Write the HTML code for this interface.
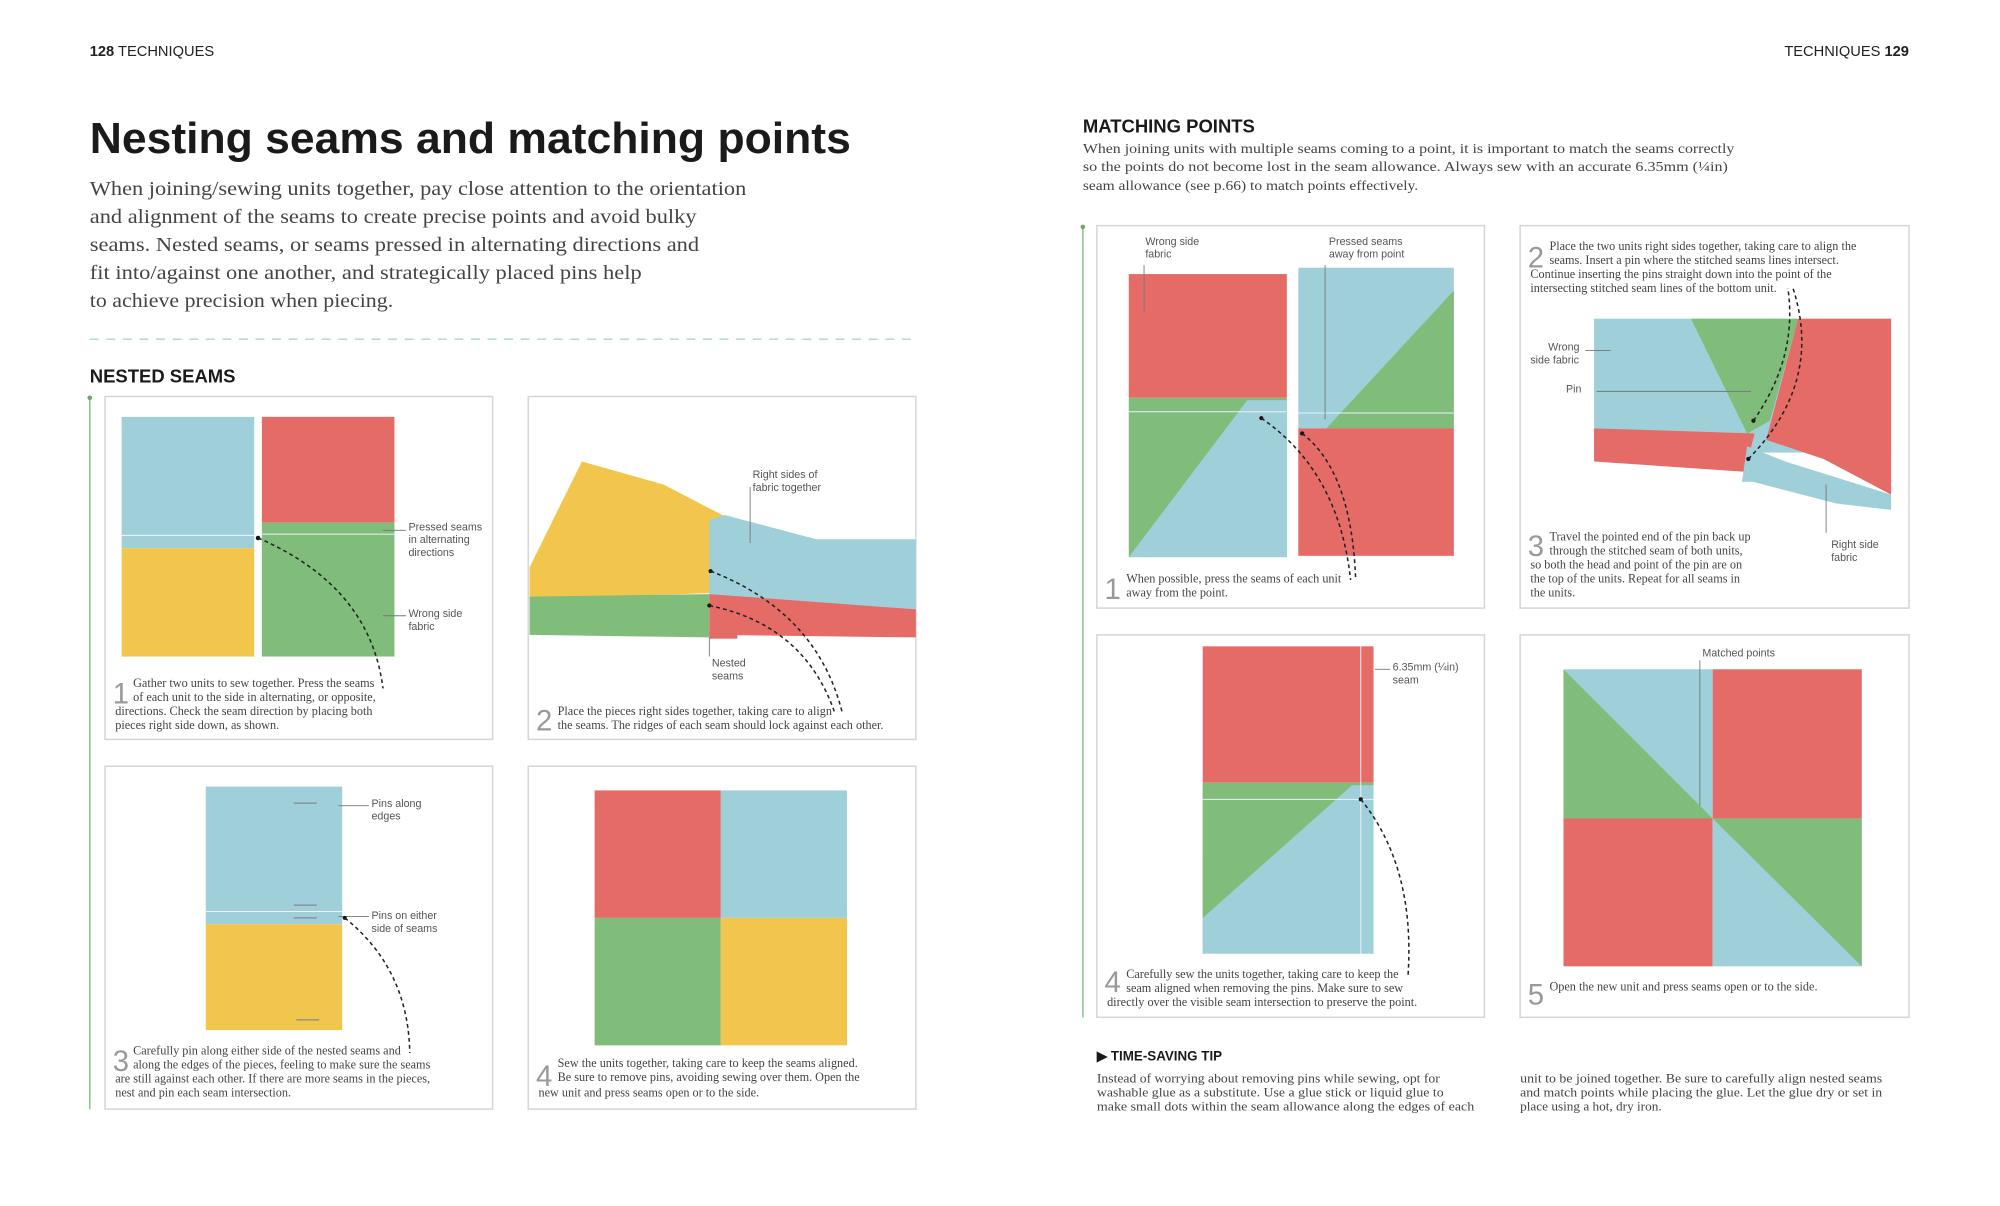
<!DOCTYPE html>
<html><head><meta charset="utf-8"><style>
html,body{margin:0;padding:0;background:#fff;}
svg{display:block;}
.s{font-family:"Liberation Sans",sans-serif;}
.f{font-family:"Liberation Serif",serif;}
.cap{font-family:"Liberation Serif",serif;font-size:9.6px;fill:#444;}
.lab{font-family:"Liberation Sans",sans-serif;font-size:8.4px;fill:#555;}
.num{font-family:"Liberation Sans",sans-serif;font-size:23px;fill:#999;}
.pn{fill:#fff;stroke:#d6d6d6;stroke-width:1.2;}
.ld{stroke:#777;stroke-width:0.7;fill:none;}
.dl{stroke:#222;stroke-width:1.2;fill:none;stroke-dasharray:3,2.5;}
</style></head><body>
<svg width="2000" height="1206" viewBox="0 0 1568 946" xmlns="http://www.w3.org/2000/svg">
<rect width="1568" height="946" fill="#fff"/>
<text x="70" y="44" class="s" font-size="11.5" fill="#222"><tspan font-weight="bold">128</tspan> TECHNIQUES</text>
<text x="1497" y="44" class="s" font-size="11.5" fill="#222" text-anchor="end">TECHNIQUES <tspan font-weight="bold">129</tspan></text>
<text x="70" y="120" class="s" font-size="34" font-weight="bold" fill="#1a1a1a" textLength="597" lengthAdjust="spacingAndGlyphs">Nesting seams and matching points</text>
<g class="f" font-size="15.6" fill="#444">
<text x="70" y="153" textLength="515" lengthAdjust="spacingAndGlyphs">When joining/sewing units together, pay close attention to the orientation</text>
<text x="70" y="175" textLength="476" lengthAdjust="spacingAndGlyphs">and alignment of the seams to create precise points and avoid bulky</text>
<text x="70" y="197" textLength="478" lengthAdjust="spacingAndGlyphs">seams. Nested seams, or seams pressed in alternating directions and</text>
<text x="70" y="219" textLength="433" lengthAdjust="spacingAndGlyphs">fit into/against one another, and strategically placed pins help</text>
<text x="70" y="241" textLength="238" lengthAdjust="spacingAndGlyphs">to achieve precision when piecing.</text>
</g>
<line x1="70" y1="266" x2="718" y2="266" stroke="#a9ccd0" stroke-width="1" stroke-dasharray="7,6"/>
<text x="70" y="300" class="s" font-size="14.5" font-weight="bold" fill="#1a1a1a">NESTED SEAMS</text>
<line x1="70" y1="312" x2="70" y2="870" stroke="#8cc28c" stroke-width="1.2"/>
<circle cx="70" cy="312" r="1.8" fill="#6aa86a"/>

<rect class="pn" x="82" y="311" width="304" height="269"/>
<rect x="95" y="327" width="104" height="103" fill="#9fd0d9"/>
<line x1="95" y1="420" x2="199" y2="420" stroke="#eef" stroke-width="0.8"/>
<rect x="95" y="430" width="104" height="85" fill="#f2c64c"/>
<rect x="205" y="327" width="104" height="83" fill="#e46b66"/>
<rect x="205" y="410" width="104" height="105" fill="#80bd7b"/>
<line x1="205" y1="419" x2="309" y2="419" stroke="#eef" stroke-width="0.8"/>
<circle cx="202" cy="422" r="1.8" fill="#111"/>
<path class="dl" d="M202,422 Q290,460 300,540"/>
<line class="ld" x1="300" y1="416" x2="318" y2="416"/>
<line class="ld" x1="300" y1="483" x2="318" y2="483"/>
<text class="lab" x="320" y="416">Pressed seams</text><text class="lab" x="320" y="426">in alternating</text><text class="lab" x="320" y="436">directions</text>
<text class="lab" x="320" y="484">Wrong side</text><text class="lab" x="320" y="494">fabric</text>
<text class="num" x="88" y="552">1</text>
<text class="cap" x="104" y="539">Gather two units to sew together. Press the seams</text>
<text class="cap" x="104" y="550">of each unit to the side in alternating, or opposite,</text>
<text class="cap" x="90" y="561">directions. Check the seam direction by placing both</text>
<text class="cap" x="90" y="572">pieces right side down, as shown.</text>

<rect class="pn" x="414" y="311" width="304" height="269"/>
<polygon points="415,445 456,362 520,380 568,405 566,465 415,470" fill="#f2c64c"/>
<polygon points="415,468 556,466 556,500 415,498" fill="#80bd7b"/>
<polygon points="556,408 568,404 640,423 718,423 718,480 556,468" fill="#9fd0d9"/>
<polygon points="556,466 718,478 718,500 556,498" fill="#e46b66"/>
<rect x="556" y="495" width="22" height="6" fill="#e46b66"/>
<line class="ld" x1="588" y1="382" x2="588" y2="426"/>
<line class="ld" x1="556" y1="500" x2="556" y2="515"/>
<circle cx="557" cy="448" r="1.6" fill="#111"/><circle cx="556" cy="475" r="1.6" fill="#111"/>
<path class="dl" d="M557,448 Q640,480 660,558"/>
<path class="dl" d="M556,475 Q630,490 654,558"/>
<text class="lab" x="590" y="375">Right sides of</text><text class="lab" x="590" y="385">fabric together</text>
<text class="lab" x="558" y="523">Nested</text><text class="lab" x="558" y="533">seams</text>
<text class="num" x="420" y="573">2</text>
<text class="cap" x="437" y="561">Place the pieces right sides together, taking care to align</text>
<text class="cap" x="437" y="572">the seams. The ridges of each seam should lock against each other.</text>

<rect class="pn" x="82" y="601" width="304" height="269"/>
<rect x="161" y="617" width="107" height="108" fill="#9fd0d9"/>
<line x1="161" y1="715" x2="268" y2="715" stroke="#eef" stroke-width="0.8"/>
<rect x="161" y="725" width="107" height="83" fill="#f2c64c"/>
<g stroke="#888" stroke-width="1"><line x1="230" y1="630" x2="248" y2="630"/><line x1="230" y1="710" x2="248" y2="710"/><line x1="230" y1="720" x2="248" y2="720"/><line x1="232" y1="800" x2="250" y2="800"/></g>
<line class="ld" x1="265" y1="632" x2="289" y2="632"/>
<line class="ld" x1="265" y1="719" x2="289" y2="719"/>
<text class="lab" x="291" y="633">Pins along</text><text class="lab" x="291" y="643">edges</text>
<text class="lab" x="291" y="721">Pins on either</text><text class="lab" x="291" y="731">side of seams</text>
<circle cx="270" cy="720" r="1.6" fill="#111"/>
<path class="dl" d="M270,720 Q320,760 321,826"/>
<text class="num" x="88" y="840">3</text>
<text class="cap" x="104" y="827">Carefully pin along either side of the nested seams and</text>
<text class="cap" x="104" y="838">along the edges of the pieces, feeling to make sure the seams</text>
<text class="cap" x="90" y="849">are still against each other. If there are more seams in the pieces,</text>
<text class="cap" x="90" y="860">nest and pin each seam intersection.</text>

<rect class="pn" x="414" y="601" width="304" height="269"/>
<rect x="466" y="620" width="99" height="100" fill="#e46b66"/>
<rect x="565" y="620" width="99" height="100" fill="#9fd0d9"/>
<rect x="466" y="720" width="99" height="100" fill="#80bd7b"/>
<rect x="565" y="720" width="99" height="100" fill="#f2c64c"/>
<text class="num" x="420" y="852">4</text>
<text class="cap" x="437" y="837">Sew the units together, taking care to keep the seams aligned.</text>
<text class="cap" x="437" y="848">Be sure to remove pins, avoiding sewing over them. Open the</text>
<text class="cap" x="422" y="860">new unit and press seams open or to the side.</text>

<text x="849" y="104" class="s" font-size="14.5" font-weight="bold" fill="#1a1a1a">MATCHING POINTS</text>
<g class="f" font-size="10.6" fill="#444">
<text x="849" y="120" textLength="511" lengthAdjust="spacingAndGlyphs">When joining units with multiple seams coming to a point, it is important to match the seams correctly</text>
<text x="849" y="134" textLength="506" lengthAdjust="spacingAndGlyphs">so the points do not become lost in the seam allowance. Always sew with an accurate 6.35mm (¼in)</text>
<text x="849" y="149" textLength="263" lengthAdjust="spacingAndGlyphs">seam allowance (see p.66) to match points effectively.</text>
</g>
<line x1="849" y1="178" x2="849" y2="798" stroke="#8cc28c" stroke-width="1.2"/>
<circle cx="849" cy="178" r="1.8" fill="#6aa86a"/>

<rect class="pn" x="860" y="177" width="304" height="300"/>
<rect x="885" y="215" width="124" height="97" fill="#e46b66"/>
<rect x="885" y="312" width="124" height="125" fill="#80bd7b"/>
<polygon points="885,437 978,314 1009,314 1009,437" fill="#9fd0d9"/>
<line x1="885" y1="323" x2="1009" y2="323" stroke="#eef" stroke-width="0.8"/>
<rect x="1018" y="210" width="122" height="126" fill="#9fd0d9"/>
<polygon points="1140,228 1140,336 1040,336" fill="#80bd7b"/>
<rect x="1018" y="336" width="122" height="100" fill="#e46b66"/>
<line x1="1018" y1="324" x2="1140" y2="324" stroke="#eef" stroke-width="0.8"/>
<line class="ld" x1="897" y1="208" x2="897" y2="245"/>
<line class="ld" x1="1039" y1="208" x2="1039" y2="329"/>
<text class="lab" x="898" y="192">Wrong side</text><text class="lab" x="898" y="202">fabric</text>
<text class="lab" x="1042" y="192">Pressed seams</text><text class="lab" x="1042" y="202">away from point</text>
<circle cx="989" cy="328" r="1.6" fill="#111"/><circle cx="1021" cy="340" r="1.6" fill="#111"/>
<path class="dl" d="M989,328 Q1050,370 1059,455"/>
<path class="dl" d="M1021,340 Q1060,370 1063,455"/>
<text class="num" x="866" y="470">1</text>
<text class="cap" x="883" y="457">When possible, press the seams of each unit</text>
<text class="cap" x="883" y="468">away from the point.</text>

<rect class="pn" x="1192" y="177" width="305" height="300"/>
<text class="num" x="1198" y="210">2</text>
<text class="cap" x="1215" y="196">Place the two units right sides together, taking care to align the</text>
<text class="cap" x="1215" y="207">seams. Insert a pin where the stitched seams lines intersect.</text>
<text class="cap" x="1200" y="218">Continue inserting the pins straight down into the point of the</text>
<text class="cap" x="1200" y="229">intersecting stitched seam lines of the bottom unit.</text>
<rect x="1250" y="250" width="233" height="105" fill="#9fd0d9"/>
<polygon points="1326,250 1410,250 1388,330 1370,340" fill="#80bd7b"/>
<polygon points="1410,250 1483,250 1483,388 1430,360 1385,345" fill="#e46b66"/>
<polygon points="1250,336 1376,340 1368,370 1250,362" fill="#e46b66"/>
<polygon points="1370,350 1400,362 1483,388 1483,400 1440,395 1375,378 1366,378" fill="#9fd0d9"/>
<line class="ld" x1="1252" y1="307" x2="1373" y2="307"/>
<line class="ld" x1="1243" y1="275" x2="1263" y2="275"/>
<line class="ld" x1="1432" y1="380" x2="1432" y2="418"/>
<text class="lab" x="1214" y="275">Wrong</text><text class="lab" x="1200" y="285">side fabric</text>
<text class="lab" x="1228" y="308">Pin</text>
<text class="lab" x="1436" y="430">Right side</text><text class="lab" x="1436" y="440">fabric</text>
<circle cx="1375" cy="330" r="1.6" fill="#111"/><circle cx="1371" cy="360" r="1.6" fill="#111"/>
<path class="dl" d="M1375,330 Q1410,280 1402,226"/>
<path class="dl" d="M1371,360 Q1430,300 1406,226"/>
<text class="num" x="1198" y="436">3</text>
<text class="cap" x="1215" y="424">Travel the pointed end of the pin back up</text>
<text class="cap" x="1215" y="435">through the stitched seam of both units,</text>
<text class="cap" x="1200" y="446">so both the head and point of the pin are on</text>
<text class="cap" x="1200" y="457">the top of the units. Repeat for all seams in</text>
<text class="cap" x="1200" y="468">the units.</text>

<rect class="pn" x="860" y="498" width="304" height="300"/>
<rect x="943" y="507" width="134" height="107" fill="#e46b66"/>
<rect x="943" y="614" width="134" height="134" fill="#80bd7b"/>
<polygon points="943,748 943,720 1060,616 1077,616 1077,748" fill="#9fd0d9"/>
<polygon points="943,720 1060,616 943,616" fill="#80bd7b"/>
<line x1="943" y1="627" x2="1077" y2="627" stroke="#eef" stroke-width="0.8"/>
<line x1="1067" y1="507" x2="1067" y2="748" stroke="#eef" stroke-width="0.8"/>
<line class="ld" x1="1078" y1="525" x2="1090" y2="525"/>
<text class="lab" x="1092" y="526">6.35mm (¼in)</text><text class="lab" x="1092" y="536">seam</text>
<circle cx="1067" cy="627" r="1.6" fill="#111"/>
<path class="dl" d="M1067,627 Q1110,680 1104,766"/>
<text class="num" x="866" y="778">4</text>
<text class="cap" x="883" y="767">Carefully sew the units together, taking care to keep the</text>
<text class="cap" x="883" y="778">seam aligned when removing the pins. Make sure to sew</text>
<text class="cap" x="868" y="789">directly over the visible seam intersection to preserve the point.</text>

<rect class="pn" x="1192" y="498" width="305" height="300"/>
<rect x="1226" y="525" width="117" height="117" fill="#9fd0d9"/>
<polygon points="1226,525 1343,642 1226,642" fill="#80bd7b"/>
<rect x="1343" y="525" width="117" height="117" fill="#e46b66"/>
<rect x="1226" y="642" width="117" height="116" fill="#e46b66"/>
<rect x="1343" y="642" width="117" height="116" fill="#9fd0d9"/>
<polygon points="1343,642 1460,758 1460,642" fill="#80bd7b"/>
<line class="ld" x1="1333" y1="518" x2="1333" y2="632"/>
<text class="lab" x="1335" y="515">Matched points</text>
<text class="num" x="1198" y="788">5</text>
<text class="cap" x="1215" y="777">Open the new unit and press seams open or to the side.</text>

<text x="860" y="832" class="s" font-size="10.5" font-weight="bold" fill="#1a1a1a">▶ TIME-SAVING TIP</text>
<g class="cap" font-size="10">
<text x="860" y="849" textLength="269" lengthAdjust="spacingAndGlyphs">Instead of worrying about removing pins while sewing, opt for</text>
<text x="860" y="860" textLength="272" lengthAdjust="spacingAndGlyphs">washable glue as a substitute. Use a glue stick or liquid glue to</text>
<text x="860" y="871" textLength="296" lengthAdjust="spacingAndGlyphs">make small dots within the seam allowance along the edges of each</text>
<text x="1192" y="849" textLength="284" lengthAdjust="spacingAndGlyphs">unit to be joined together. Be sure to carefully align nested seams</text>
<text x="1192" y="860" textLength="284" lengthAdjust="spacingAndGlyphs">and match points while placing the glue. Let the glue dry or set in</text>
<text x="1192" y="871" textLength="111" lengthAdjust="spacingAndGlyphs">place using a hot, dry iron.</text>
</g>
</svg>
</body></html>
